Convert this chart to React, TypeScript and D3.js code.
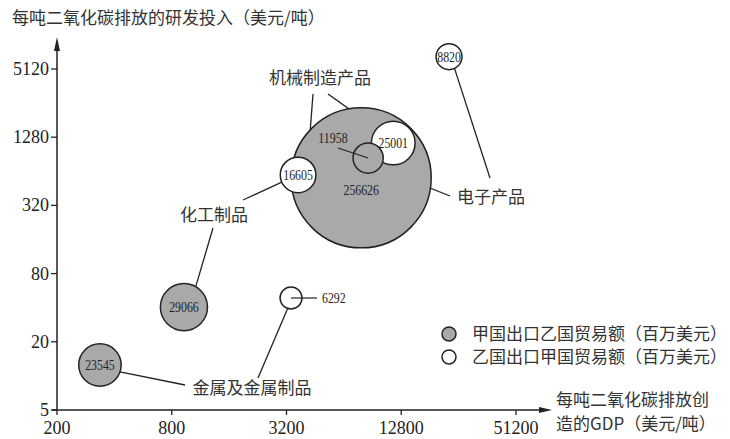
import React from "react";
import * as d3 from "d3";

// ---- data ----
const xTicks = [200, 800, 3200, 12800, 51200];
const yTicks = [5, 20, 80, 320, 1280, 5120];
const bubbleValues = [256626, 29066, 25001, 23545, 16605, 11958, 8820, 6292];
const bubbleGdp = [7890, 927, 11620, 336, 3680, 8580, 22800, 3380];
const bubbleRd = [560, 40.5, 1138, 12.5, 594, 838, 6580, 48.7];
const bubbleSeries = ["A", "A", "B", "A", "B", "A", "B", "B"];
const bubbleIndustry = ["机械制造产品", "化工制品", "机械制造产品", "金属及金属制品", "化工制品", "电子产品", "电子产品", "金属及金属制品"];
const seriesNames = ["甲国出口乙国贸易额（百万美元）", "乙国出口甲国贸易额（百万美元）"];
const industries = ["机械制造产品", "电子产品", "化工制品", "金属及金属制品"];
const yTitle = "每吨二氧化碳排放的研发投入（美元/吨）";
const xTitle = ["每吨二氧化碳排放创", "造的GDP（美元/吨）"];

// ---- layout ----
const W = 730, H = 439;
const x = d3.scaleLog().base(4).domain([200, 51200]).range([57, 516]);
const y = d3.scaleLog().base(4).domain([5, 5120]).range([410, 69]);
const r = d3.scaleSqrt().domain([0, 256626]).range([0, 70]);
const GRAY = "#a9a9a9";
const INK = "#222";
const CJK = "'Noto Sans CJK SC', 'Noto Sans', sans-serif";
const SERIF = "'Liberation Serif', 'Times New Roman', 'DejaVu Serif', serif";

const industryLabelPos: Record<string, [number, number]> = {
  "机械制造产品": [320, 78],
  "电子产品": [491, 197],
  "化工制品": [214, 215],
  "金属及金属制品": [252, 388],
};
// leader lines: [bubble index, edge angle deg, end x, end y]
const leaders: [number, number, number, number][] = [
  [0, -136.7, 313, 94],
  [2, -139, 328, 94],
  [4, 156, 243, 200],
  [1, -60, 213, 228],
  [3, 19, 185, 385],
  [7, 108, 258, 378],
  [6, 65, 490, 178],
  [5, 40.6, 450, 196],
];

function edge(i: number, deg: number): [number, number] {
  const a = (deg * Math.PI) / 180;
  const rr = r(bubbleValues[i]);
  return [x(bubbleGdp[i]) + rr * Math.cos(a), y(bubbleRd[i]) + rr * Math.sin(a)];
}

const serifStyle = { fontFamily: SERIF };
const cjkStyle = { fontFamily: CJK };

export default function App() {
  const order = d3.range(bubbleValues.length).sort((a, b) => bubbleValues[b] - bubbleValues[a]);
  const x0 = x(200), y0 = y(5);
  const i11958 = bubbleValues.indexOf(11958);
  const i6292 = bubbleValues.indexOf(6292);
  return (
    <svg width={W} height={H} style={{ position: "absolute", left: 0, top: 0, background: "#fff" }}>
      <text x={12} y={24} style={cjkStyle} fontSize={17} fill="#333">{yTitle}</text>

      {leaders.map(([i, deg, ex, ey], k) => {
        const [sx, sy] = edge(i, deg);
        return <line key={k} x1={sx} y1={sy} x2={ex} y2={ey} stroke={INK} strokeWidth={1.3} />;
      })}

      {order.map((i) => (
        <circle key={i} cx={x(bubbleGdp[i])} cy={y(bubbleRd[i])} r={r(bubbleValues[i])}
          fill={bubbleSeries[i] === "A" ? GRAY : "#fff"} stroke={INK} strokeWidth={1.5} />
      ))}

      <line x1={338} y1={148} x2={x(bubbleGdp[i11958])} y2={y(bubbleRd[i11958])} stroke={INK} strokeWidth={1.2} />
      <line x1={x(bubbleGdp[i6292])} y1={y(bubbleRd[i6292])} x2={x(bubbleGdp[i6292]) + 26} y2={y(bubbleRd[i6292])} stroke={INK} strokeWidth={1.2} />

      {bubbleValues.map((v, i) => {
        const s = String(v);
        let tx = x(bubbleGdp[i]), ty = y(bubbleRd[i]), anchor: any = "middle";
        if (v === 256626) ty += 12;
        if (v === 11958) { tx = 333; ty = 138; }
        if (v === 6292) { tx = x(bubbleGdp[i]) + 31; anchor = "start"; }
        return (
          <text key={i} x={tx} y={ty + 5} textAnchor={anchor} style={serifStyle} fontSize={15} fill={INK}
            textLength={s.length * 5.9} lengthAdjust="spacingAndGlyphs">{s}</text>
        );
      })}

      {industries.map((name) => {
        const [lx, ly] = industryLabelPos[name];
        return <text key={name} x={lx} y={ly + 6} textAnchor="middle" style={cjkStyle} fontSize={17} fill="#333">{name}</text>;
      })}

      {/* axes */}
      <line x1={x0} y1={y0} x2={x0} y2={48} stroke={INK} strokeWidth={1.5} />
      <path d={`M${x0},37 L${x0 - 3},51 L${x0 + 3},51 Z`} fill={INK} />
      <line x1={x0 - 5} y1={y0} x2={542} y2={y0} stroke={INK} strokeWidth={1.5} />
      <path d={`M552,${y0} L539,${y0 - 3} L539,${y0 + 3} Z`} fill={INK} />
      {yTicks.map((t) => (
        <g key={t}>
          <line x1={x0 - 6} x2={x0} y1={y(t)} y2={y(t)} stroke={INK} strokeWidth={1.3} />
          <text x={x0 - 8} y={y(t) + 6} textAnchor="end" style={serifStyle} fontSize={18} fill={INK}>{t}</text>
        </g>
      ))}
      {xTicks.map((t) => (
        <g key={t}>
          <line x1={x(t)} x2={x(t)} y1={y0} y2={y0 + 5} stroke={INK} strokeWidth={1.3} />
          <text x={x(t)} y={y0 + 24} textAnchor="middle" style={serifStyle} fontSize={18} fill={INK}>{t}</text>
        </g>
      ))}
      <text x={556} y={406} style={cjkStyle} fontSize={17} fill="#333">{xTitle[0]}</text>
      <text x={556} y={430} style={cjkStyle} fontSize={17} fill="#333">{xTitle[1]}</text>

      {seriesNames.map((n, k) => (
        <g key={n}>
          <circle cx={449} cy={334 + k * 23} r={7} fill={k === 0 ? GRAY : "#fff"} stroke={INK} strokeWidth={1.5} />
          <text x={472} y={334 + k * 23 + 6} style={cjkStyle} fontSize={17} fill="#333">{n}</text>
        </g>
      ))}
    </svg>
  );
}
